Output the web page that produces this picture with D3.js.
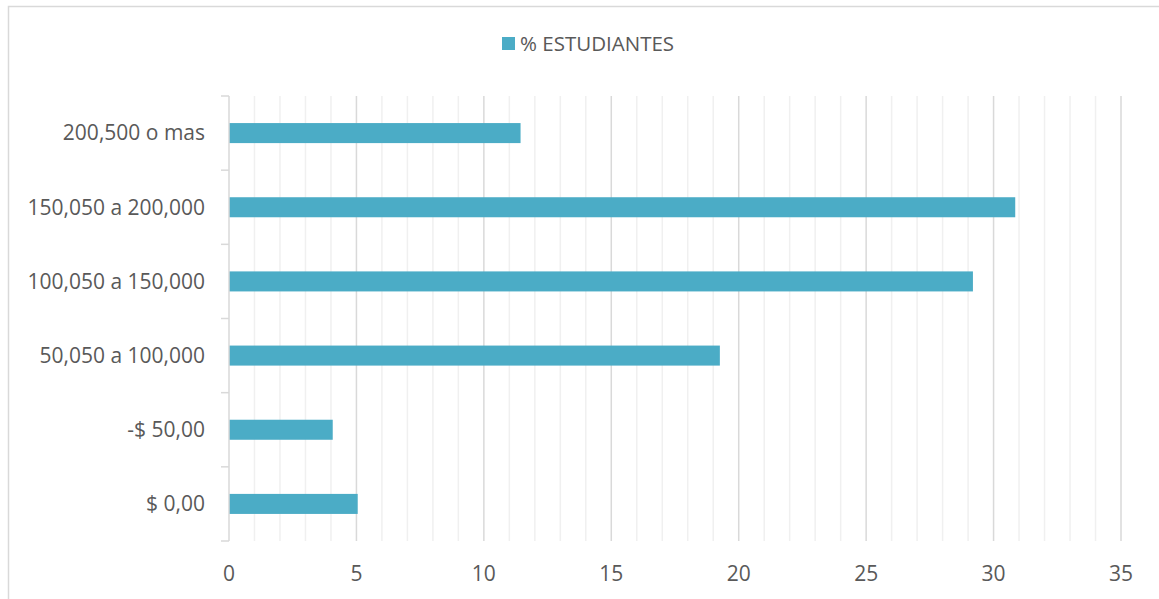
<!DOCTYPE html>
<html>
<head>
<meta charset="utf-8">
<script src="https://cdn.jsdelivr.net/npm/d3@7"></script>
<style>
	body { margin: 0; background: #fff; }
	text { font-family: "Open Sans", "DejaVu Sans", sans-serif; fill: #595959; }
</style>
</head>
<body>
<div id="chart"></div>
<script>
// data
var categories = ["200,500 o mas", "150,050 a 200,000", "100,050 a 150,000", "50,050 a 100,000", "-$ 50,00", "$ 0,00"];
var values = [11.44, 30.85, 29.19, 19.26, 4.07, 5.05];
var seriesName = "% ESTUDIANTES";
var xTicks = [0, 5, 10, 15, 20, 25, 30, 35];

var width = 1159, height = 599;
var barColour = "#4BACC6";

var svg = d3.select("#chart").append("svg")
	.attr("width", width)
	.attr("height", height);

// outer chart border (runs off the right/bottom edge in the reference)
svg.append("rect")
	.attr("x", 8.5).attr("y", 6.5)
	.attr("width", width).attr("height", height)
	.attr("fill", "none")
	.attr("stroke", "#d9d9d9")
	.attr("stroke-width", 1.5);

var plot = { left: 229, right: 1121, top: 96, bottom: 541 };

var x = d3.scaleLinear().domain([0, 35]).range([plot.left, plot.right]);
var y = d3.scaleBand().domain(categories).range([plot.top, plot.bottom]).paddingInner(0.73).paddingOuter(0.365);

// minor gridlines
var minor = d3.range(0, 36).filter(function (d) { return d % 5 != 0; });
svg.append("g").selectAll("line").data(minor).enter().append("line")
	.attr("x1", function (d) { return x(d); })
	.attr("x2", function (d) { return x(d); })
	.attr("y1", plot.top).attr("y2", plot.bottom)
	.attr("stroke", "#f0f0f0")
	.attr("stroke-width", 1.5);

// major gridlines
svg.append("g").selectAll("line").data(xTicks.slice(1)).enter().append("line")
	.attr("x1", function (d) { return x(d); })
	.attr("x2", function (d) { return x(d); })
	.attr("y1", plot.top).attr("y2", plot.bottom)
	.attr("stroke", "#d9d9d9")
	.attr("stroke-width", 1.5);

// x tick labels
svg.append("g").selectAll("text").data(xTicks).enter().append("text")
	.attr("x", function (d) { return x(d); })
	.attr("y", 581)
	.attr("text-anchor", "middle")
	.style("font-size", "21px")
	.text(function (d) { return d; });

// bars
svg.append("g").selectAll("rect").data(values).enter().append("rect")
	.attr("x", x(0))
	.attr("y", function (d, i) { return y(categories[i]); })
	.attr("width", function (d) { return x(d) - x(0); })
	.attr("height", y.bandwidth())
	.attr("fill", barColour);

// y axis line + ticks at category boundaries
var step = (plot.bottom - plot.top) / categories.length;
var yAxis = svg.append("g");
yAxis.append("line")
	.attr("x1", plot.left).attr("x2", plot.left)
	.attr("y1", plot.top).attr("y2", plot.bottom)
	.attr("stroke", "#d9d9d9").attr("stroke-width", 1.5);
yAxis.selectAll(".tk").data(d3.range(categories.length + 1)).enter().append("line")
	.attr("x1", plot.left - 8).attr("x2", plot.left)
	.attr("y1", function (i) { return plot.top + i * step; })
	.attr("y2", function (i) { return plot.top + i * step; })
	.attr("stroke", "#d9d9d9").attr("stroke-width", 1.5);

// category labels
svg.append("g").selectAll("text").data(categories).enter().append("text")
	.attr("x", 205)
	.attr("y", function (d) { return y(d) + y.bandwidth() / 2; })
	.attr("dy", "0.35em")
	.attr("text-anchor", "end")
	.style("font-size", "21px")
	.text(function (d) { return d; });

// legend
var legend = svg.append("g");
legend.append("rect")
	.attr("x", 502).attr("y", 37)
	.attr("width", 13).attr("height", 13)
	.attr("fill", barColour);
legend.append("text")
	.attr("x", 520).attr("y", 51)
	.style("font-size", "20.5px")
	.text(seriesName);
</script>
</body>
</html>
